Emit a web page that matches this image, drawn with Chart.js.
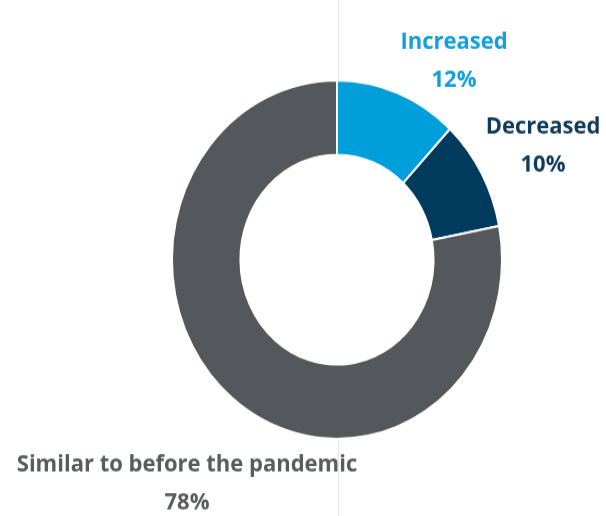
<!DOCTYPE html>
<html>
<head>
<meta charset="utf-8">
<script src="https://cdn.jsdelivr.net/npm/chart.js@4/dist/chart.umd.min.js"></script>
<style>
  html, body { margin: 0; padding: 0; background: #fff; overflow: hidden; }
  #wrap { width: 606px; height: 516px; }
  /* the whole figure is a bit taller than wide, so stretch it vertically */
  #donut { display: block; transform: scaleY(1.0863); transform-origin: 0 0; }
</style>
</head>
<body>
<div id="wrap"><canvas id="donut" width="606" height="475"></canvas></div>
<script>
const categories = ["Increased", "Decreased", "Similar to before the pandemic"];
const shares = [12, 10, 78];
const sliceColors = ["#009edb", "#003a5c", "#54575c"];
const labelColors = ["#139fdc", "#0f3a5a", "#585b60"];

// where each caption sits (name line centre)
const labelSpots = [
  { x: 454, y: 39 },
  { x: 543, y: 117 },
  { x: 187, y: 428 }
];

// thin divider through the middle, only outside the ring
const centerLine = {
  id: "centerLine",
  beforeDatasetsDraw(chart) {
    const ctx = chart.ctx;
    const arc = chart.getDatasetMeta(0).data[0];
    const x = arc.x + 1.5;
    ctx.save();
    ctx.strokeStyle = "#e9e9e9";
    ctx.lineWidth = 1.5;
    ctx.beginPath();
    ctx.moveTo(x, 0);
    ctx.lineTo(x, arc.y - arc.outerRadius + 2);
    ctx.moveTo(x, arc.y + arc.outerRadius - 2);
    ctx.lineTo(x, chart.height);
    ctx.stroke();
    ctx.restore();
  }
};

const captions = {
  id: "captions",
  afterDraw(chart) {
    const ctx = chart.ctx;
    ctx.save();
    ctx.textAlign = "center";
    ctx.textBaseline = "middle";
    ctx.font = "bold 22px 'Open Sans'";
    categories.forEach((name, i) => {
      const p = labelSpots[i];
      ctx.fillStyle = labelColors[i];
      ctx.fillText(name, p.x, p.y);
      ctx.fillText(shares[i] + "%", p.x, p.y + 35);
    });
    ctx.restore();
  }
};

new Chart(document.getElementById("donut"), {
  type: "doughnut",
  data: {
    labels: categories,
    datasets: [{
      data: shares,
      backgroundColor: sliceColors,
      borderColor: "#ffffff",
      borderWidth: 2
    }]
  },
  options: {
    responsive: false,
    animation: false,
    radius: 165,
    cutout: 96,
    layout: { padding: { left: 172, right: 104, top: 74, bottom: 71 } },
    plugins: {
      legend: { display: false },
      tooltip: { enabled: false }
    }
  },
  plugins: [centerLine, captions]
});
</script>
</body>
</html>
